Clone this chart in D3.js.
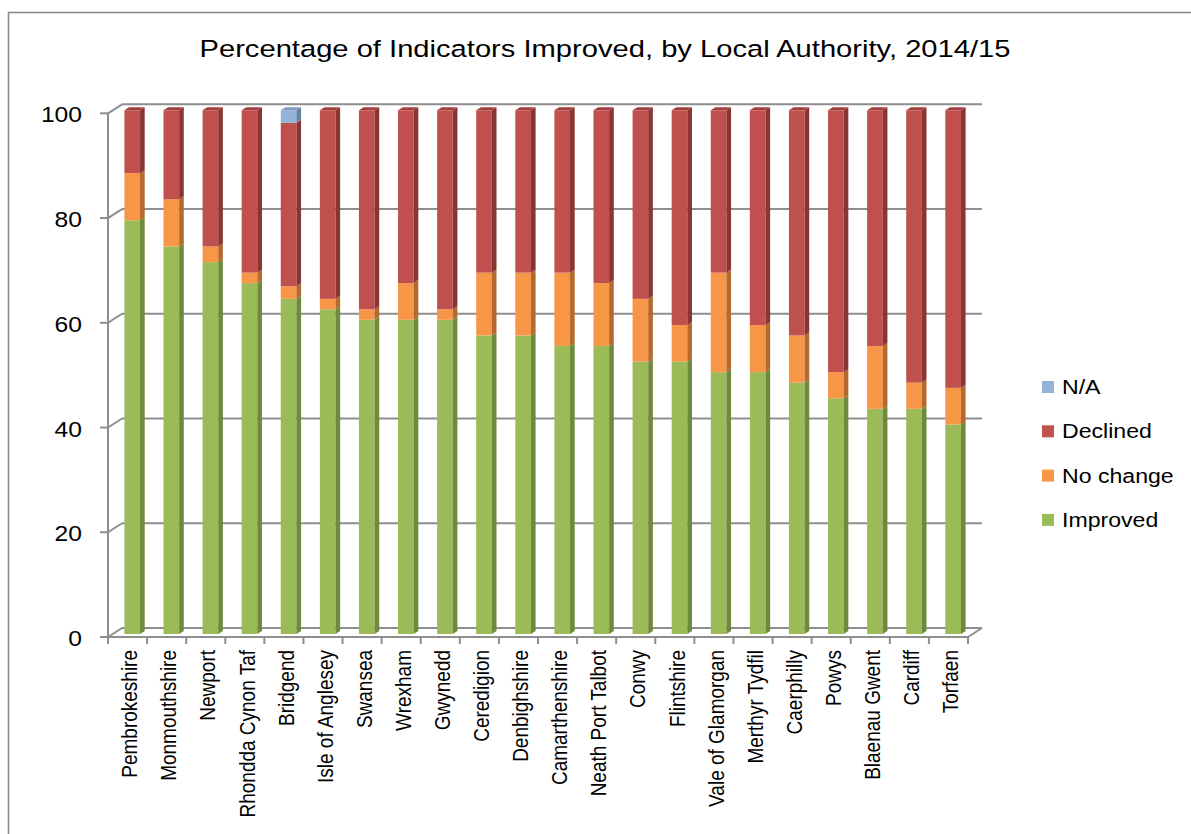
<!DOCTYPE html>
<html>
<head>
<meta charset="utf-8">
<script src="https://cdn.jsdelivr.net/npm/d3@7"></script>
<style>
  html, body { margin: 0; padding: 0; background: #fff; }
  svg { display: block; }
  text { font-family: "Liberation Sans", Arial, sans-serif; fill: #000; }
</style>
</head>
<body>
<script>
// ---------- data ----------
const title = "Percentage of Indicators Improved, by Local Authority, 2014/15";
const categories = ["Pembrokeshire","Monmouthshire","Newport","Rhondda Cynon Taf","Bridgend",
  "Isle of Anglesey","Swansea","Wrexham","Gwynedd","Ceredigion","Denbighshire","Camarthenshire",
  "Neath Port Talbot","Conwy","Flintshire","Vale of Glamorgan","Merthyr Tydfil","Caerphilly",
  "Powys","Blaenau Gwent","Cardiff","Torfaen"];
const improved = [79,74,71,67,64,62,60,60,60,57,57,55,55,52,52,50,50,48,45,43,43,40];
const noChange = [9,9,3,2,2.4,2,2,7,2,12,12,14,12,12,7,19,9,9,5,12,5,7];
const declined = [12,17,26,31,31.2,36,38,33,38,31,31,31,33,36,41,31,41,43,50,45,52,53];
const notAvailable = [0,0,0,0,2.4,0,0,0,0,0,0,0,0,0,0,0,0,0,0,0,0,0];
const seriesNames = ["Improved","No change","Declined","N/A"];
const yTicks = [0,20,40,60,80,100];

// ---------- styles ----------
const colors = {
  "Improved":  {front:"#9BBB59", side:"#6E8A3C", top:"#86A449"},
  "No change": {front:"#F79646", side:"#B5692D", top:"#D9803A"},
  "Declined":  {front:"#C0504D", side:"#8A3533", top:"#A33F3D"},
  "N/A":       {front:"#95B3D7", side:"#6882A6", top:"#7F9BC2"}
};
const axisColor = "#8E8E8E";

const W = 1191, H = 834;
const svg = d3.select("body").append("svg").attr("width", W).attr("height", H);

// chart border
svg.append("rect").attr("x", 8.5).attr("y", 12.5).attr("width", 1300).attr("height", 1000)
  .attr("fill", "none").attr("stroke", "#8A8A8A").attr("stroke-width", 1.6);

// ---------- scales ----------
const x = d3.scaleBand().domain(categories).range([108, 968]).padding(0);
const y = d3.scaleLinear().domain([0, 100]).range([637, 113.3]);
const depthX = 14, depthY = -9;            // full floor depth projection
const barFrac0 = 1/3, barFrac1 = 2/3;      // bar occupies middle third of depth
const barW = x.step() * 0.4;

// ---------- walls / gridlines ----------
const g = svg.append("g");
yTicks.forEach(t => {
  const yf = y(t);
  // back wall gridline
  g.append("line").attr("x1", 108 + depthX).attr("x2", 968 + depthX)
    .attr("y1", yf + depthY).attr("y2", yf + depthY)
    .attr("stroke", axisColor).attr("stroke-width", 2);
  // side wall diagonal
  g.append("line").attr("x1", 108).attr("y1", yf).attr("x2", 108 + depthX).attr("y2", yf + depthY)
    .attr("stroke", axisColor).attr("stroke-width", 2);
  // tick
  g.append("line").attr("x1", 100).attr("x2", 108).attr("y1", yf).attr("y2", yf)
    .attr("stroke", axisColor).attr("stroke-width", 2);
});
// y axis line
g.append("line").attr("x1", 108).attr("x2", 108).attr("y1", y(100)).attr("y2", y(0) + 7)
  .attr("stroke", axisColor).attr("stroke-width", 2);
// floor front edge and right diagonal
g.append("line").attr("x1", 100).attr("x2", 968).attr("y1", y(0)).attr("y2", y(0))
  .attr("stroke", axisColor).attr("stroke-width", 2);
g.append("line").attr("x1", 968).attr("y1", y(0)).attr("x2", 968 + depthX).attr("y2", y(0) + depthY)
  .attr("stroke", axisColor).attr("stroke-width", 2);
// x ticks at category boundaries
categories.forEach((c, i) => {
  const xb = x(c) + x.step();
  g.append("line").attr("x1", xb).attr("x2", xb).attr("y1", y(0)).attr("y2", y(0) + 7)
    .attr("stroke", axisColor).attr("stroke-width", 2);
});

// y tick labels
yTicks.forEach(t => {
  svg.append("text")
    .attr("transform", `translate(82,${y(t) + 9}) scale(1.12,1)`)
    .attr("text-anchor", "end").attr("font-size", 22).text(t);
});

// ---------- stacked 3D bars ----------
const table = categories.map((c, i) => ({
  cat: c, "Improved": improved[i], "No change": noChange[i],
  "Declined": declined[i], "N/A": notAvailable[i]
}));
const stacked = d3.stack().keys(seriesNames)(table);
const topIndex = categories.map((c, i) => {
  let k = -1;
  stacked.forEach((s, j) => { if (s[i][1] - s[i][0] > 0) k = j; });
  return k;
});

const ox0 = depthX * barFrac0, oy0 = depthY * barFrac0;
const dX = depthX * (barFrac1 - barFrac0), dY = depthY * (barFrac1 - barFrac0);
const bars = svg.append("g");
stacked.forEach((s, j) => {
  const col = colors[s.key];
  s.forEach((d, i) => {
    if (d[1] - d[0] <= 0) return;
    const c = categories[i];
    const x0 = x(c) + (x.step() - barW) / 2 + ox0;
    const x1 = x0 + barW;
    const yT = y(d[1]) + oy0, yB = y(d[0]) + oy0;
    bars.append("rect").attr("x", x0).attr("y", yT).attr("width", barW).attr("height", yB - yT)
      .attr("fill", col.front);
    bars.append("path")
      .attr("d", `M${x1},${yT}L${x1 + dX},${yT + dY}L${x1 + dX},${yB + dY}L${x1},${yB}Z`)
      .attr("fill", col.side);
    if (topIndex[i] === j) {
      bars.append("path")
        .attr("d", `M${x0},${yT}L${x0 + dX},${yT + dY}L${x1 + dX},${yT + dY}L${x1},${yT}Z`)
        .attr("fill", col.top);
    }
  });
});

// ---------- x labels ----------
categories.forEach(c => {
  const cx = x(c) + x.step() / 2;
  svg.append("text")
    .attr("transform", `translate(${cx + 9.7},650) rotate(-90) scale(1,1.2)`)
    .attr("text-anchor", "end").attr("font-size", 19).text(c);
});

// ---------- title ----------
svg.append("text")
  .attr("transform", "translate(605,57) scale(1.24,1)")
  .attr("text-anchor", "middle").attr("font-size", 23.5).text(title);

// ---------- legend ----------
const legendOrder = ["N/A","Declined","No change","Improved"];
legendOrder.forEach((name, i) => {
  const ly = 394 + i * 44.3;
  svg.append("rect").attr("x", 1042).attr("y", ly - 13).attr("width", 12).attr("height", 12)
    .attr("fill", colors[name].front);
  svg.append("text")
    .attr("transform", `translate(1062,${ly}) scale(1.1,1)`)
    .attr("font-size", 21).text(name);
});
</script>
</body>
</html>
